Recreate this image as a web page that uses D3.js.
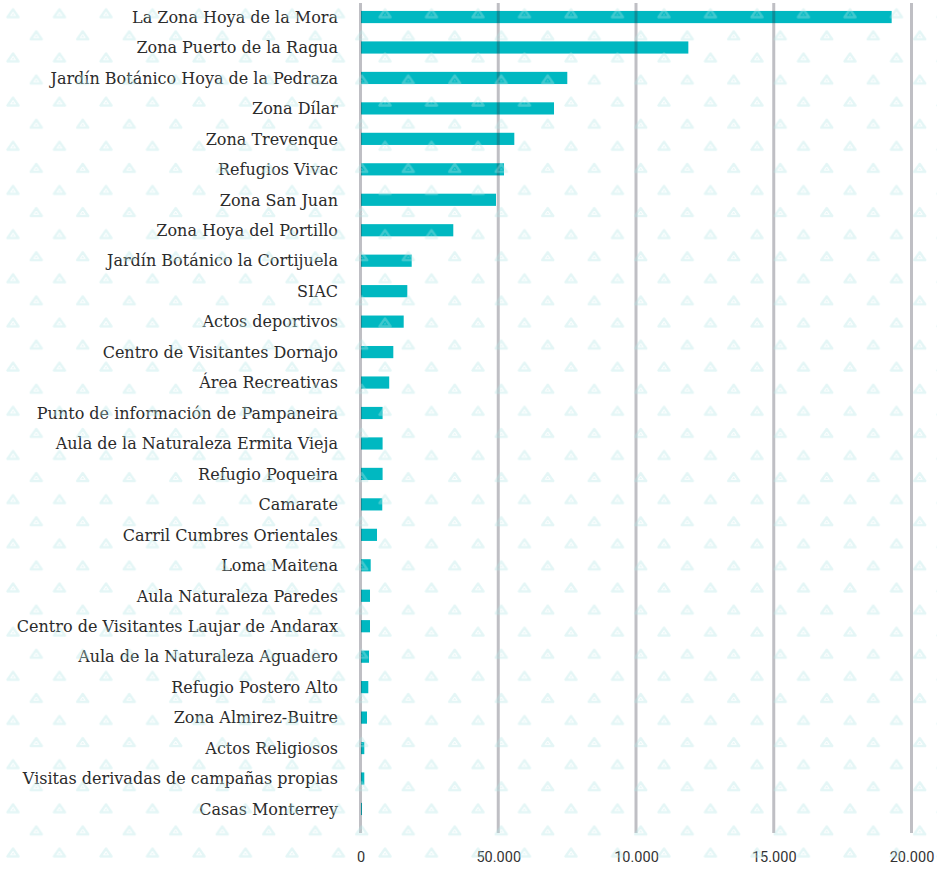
<!DOCTYPE html>
<html>
<head>
<meta charset="utf-8">
<script src="https://cdn.jsdelivr.net/npm/d3@7/dist/d3.min.js"></script>
<style>
  html, body { margin: 0; padding: 0; background: #ffffff; }
  svg { display: block; }
</style>
</head>
<body>
<svg id="chart" width="937" height="869"></svg>
<script>
// Visitors per site / activity
const categories = [
  "La Zona Hoya de la Mora",
  "Zona Puerto de la Ragua",
  "Jardín Botánico Hoya de la Pedraza",
  "Zona Dílar",
  "Zona Trevenque",
  "Refugios Vivac",
  "Zona San Juan",
  "Zona Hoya del Portillo",
  "Jardín Botánico la Cortijuela",
  "SIAC",
  "Actos deportivos",
  "Centro de Visitantes Dornajo",
  "Área Recreativas",
  "Punto de información de Pampaneira",
  "Aula de la Naturaleza Ermita Vieja",
  "Refugio Poqueira",
  "Camarate",
  "Carril Cumbres Orientales",
  "Loma Maitena",
  "Aula Naturaleza Paredes",
  "Centro de Visitantes Laujar de Andarax",
  "Aula de la Naturaleza Aguadero",
  "Refugio Postero Alto",
  "Zona Almirez-Buitre",
  "Actos Religiosos",
  "Visitas derivadas de campañas propias",
  "Casas Monterrey"
];

const values = [
  19280, 11900, 7506, 7024, 5583, 5209, 4918, 3368, 1858, 1699,
  1568, 1191, 1042, 802, 802, 802, 790, 599, 370, 345,
  345, 309, 283, 236, 138, 138, 54
];

const tickValues = [0, 5000, 10000, 15000, 20000];
const tickLabels = ["0", "50.000", "10.000", "15.000", "20.000"];

const data = categories.map((c, i) => ({ name: c, value: values[i] }));

const svg = d3.select("#chart");
const W = 937, H = 869;

const x = d3.scaleLinear().domain([0, 20000]).range([360.5, 911.5]);
const y = d3.scaleBand()
  .domain(categories)
  .range([1.8, 824.2])
  .paddingInner(0.6)
  .paddingOuter(0.3);

// Bars
svg.append("g")
  .selectAll("rect")
  .data(data)
  .join("rect")
  .attr("x", x(0) + 0.5)
  .attr("y", d => y(d.name))
  .attr("width", d => Math.max(0, x(d.value) - x(0) - 0.5))
  .attr("height", y.bandwidth())
  .attr("fill", "#00b8c1");

// Vertical grid lines (drawn over the bars, translucent)
svg.append("g")
  .selectAll("line")
  .data(tickValues)
  .join("line")
  .attr("x1", d => x(d))
  .attr("x2", d => x(d))
  .attr("y1", 3)
  .attr("y2", 833)
  .attr("stroke", "#2a2a3a")
  .attr("stroke-opacity", 0.3)
  .attr("stroke-width", 3);

// Category labels
svg.append("g")
  .selectAll("text")
  .data(data)
  .join("text")
  .attr("x", 338)
  .attr("y", d => y(d.name) + y.bandwidth() / 2)
  .attr("dy", "0.36em")
  .attr("text-anchor", "end")
  .attr("font-family", "'DejaVu Serif', serif")
  .attr("font-size", 16)
  .attr("fill", "#2b2b2b")
  .text(d => d.name);

// X axis labels
const xAxis = d3.axisBottom(x)
  .tickValues(tickValues)
  .tickSize(0)
  .tickFormat((d, i) => tickLabels[i]);

const ax = svg.append("g")
  .attr("transform", "translate(0,849)")
  .call(xAxis);
ax.select(".domain").remove();
ax.selectAll("text")
  .attr("font-family", "Roboto, sans-serif")
  .attr("font-size", 14.5)
  .attr("fill", "#333333");

// Watermark triangle pattern over the whole chart
const defs = svg.append("defs");
const pat = defs.append("pattern")
  .attr("id", "tri")
  .attr("patternUnits", "userSpaceOnUse")
  .attr("width", 46.5)
  .attr("height", 44.17);

function tri(g, cx, cy) {
  g.append("path")
    .attr("d", `M${cx - 5.5},${cy + 3.6}L${cx + 5.5},${cy + 3.6}L${cx},${cy - 4.2}Z`)
    .attr("fill", "none")
    .attr("stroke", "#b3e6e6")
    .attr("stroke-width", 2.4)
    .attr("stroke-linejoin", "round");
  g.append("path")
    .attr("d", `M${cx - 1.4},${cy + 1.6}L${cx + 1.4},${cy + 1.6}L${cx},${cy - 0.6}Z`)
    .attr("fill", "#b3e6e6");
}
const pg = pat.append("g").attr("opacity", 0.36);
tri(pg, 13, 13.5);
tri(pg, 36.25, 35.6);

svg.append("rect")
  .attr("width", W)
  .attr("height", H)
  .attr("fill", "url(#tri)")
  .attr("pointer-events", "none");
</script>
</body>
</html>
